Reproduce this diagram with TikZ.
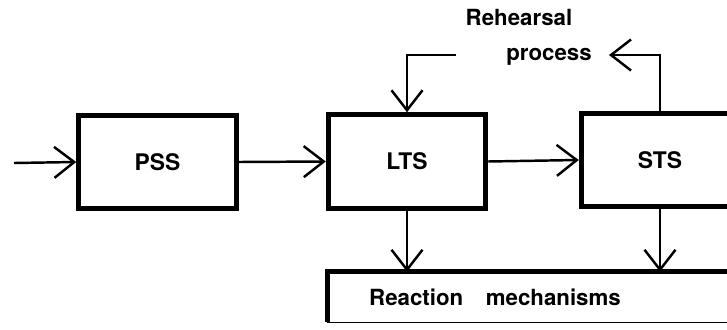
\documentclass[tikz,border=0pt]{standalone}
\usepackage{fontspec}
\setmainfont{TeX Gyre Heros}
\usetikzlibrary{arrows.meta}
\tikzset{
  store/.style={draw, line width=4.4pt, minimum width=4.72cm, minimum height=2.8cm,
    font=\fontsize{19.5}{22}\selectfont\bfseries},
  flow/.style={line width=2.1pt, -{Straight Barb[length=0.6cm,width=0.93cm]}},
  lbl/.style={font=\fontsize{19}{22}\selectfont\bfseries}
}
\begin{document}
\begin{tikzpicture}[x=0.03cm,y=-0.03cm]
  \useasboundingbox (0,0) rectangle (727,329);
  \clip (0,0) rectangle (727,329);

  % stores
  \node[store] (pss) at (157.5,162) {PSS};
  \node[store] (lts) at (407,161.5) {LTS};
  \node[store] (sts) at (660,160) {STS};

  % reaction box, open on the right
  \node[minimum width=12.6cm, minimum height=1.5cm] (react) at (537.5,297) {};
  \draw[line width=4.4pt] (react.south west) -- (react.north west) -- (react.north east);
  \draw[line width=1.2pt] (react.south west) -- (react.south east);
  \node[lbl] (reacttxt) at (495,297) {Reaction\hspace{0.68cm}mechanisms};

  % flow
  \coordinate (in) at (14,163);
  \draw[flow] (in) -- (pss.west);
  \draw[flow] (pss.east) -- (lts.west);
  \draw[flow] (lts.east) -- (sts.west);
  \draw[flow] (lts.south) -- (lts.south |- react.north);
  \draw[flow] (sts.south) -- (sts.south |- react.north);

  % rehearsal loop
  \coordinate (rehin) at (456,55);
  \coordinate (rehout) at (609,55);
  \draw[flow] (sts.north) |- (rehout);
  \draw[flow] (rehin) -| (lts.north);
  \node[lbl] (rehtxt) at (519,17) {Rehearsal};
  \node[lbl] (proctxt) at (549,57) {process};
\end{tikzpicture}
\end{document}
